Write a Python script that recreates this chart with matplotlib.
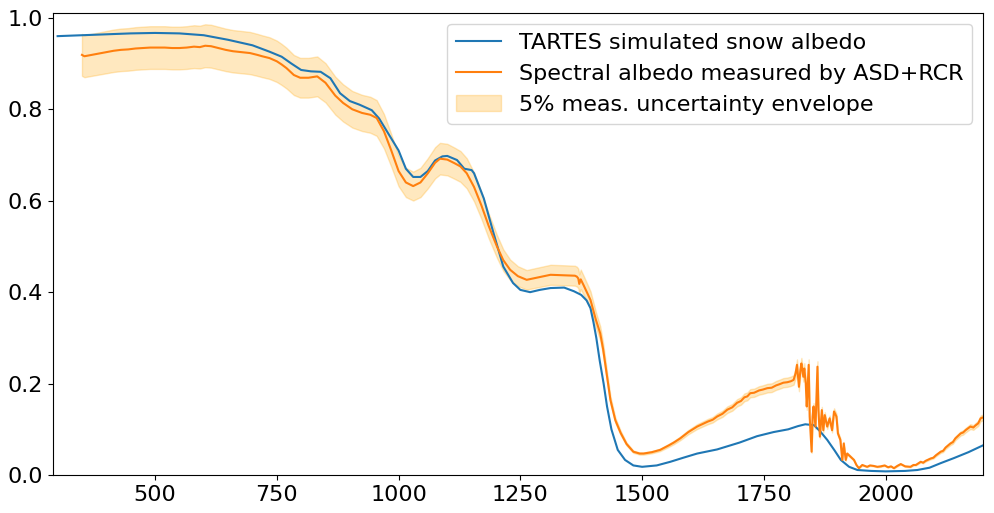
import matplotlib
matplotlib.use("Agg")
import matplotlib.pyplot as plt
import numpy as np

# TARTES simulated albedo
sim_wl = [300, 350, 400, 450, 500, 550, 600, 650, 700, 735, 760, 780, 800, 820, 840,
          860, 880, 900, 920, 945, 960, 980, 1000, 1015, 1030, 1045, 1060, 1075, 1090,
          1100, 1120, 1135, 1150, 1155, 1175, 1195, 1215, 1235, 1250, 1270, 1290, 1312,
          1340, 1360, 1375, 1386, 1394, 1400, 1406, 1413, 1421, 1428, 1437, 1450, 1465,
          1482, 1500, 1530, 1558, 1585, 1613, 1654, 1700, 1736, 1770, 1800, 1820, 1835,
          1853, 1866, 1880, 1895, 1908, 1925, 1942, 1970, 2000, 2040, 2065, 2090, 2113,
          2140, 2170, 2200]
sim_alb = [0.960, 0.962, 0.964, 0.966, 0.967, 0.966, 0.962, 0.952, 0.940, 0.926, 0.915,
           0.900, 0.886, 0.883, 0.882, 0.868, 0.835, 0.818, 0.810, 0.798, 0.780, 0.745,
           0.710, 0.670, 0.652, 0.652, 0.665, 0.688, 0.697, 0.698, 0.689, 0.670, 0.667,
           0.660, 0.605, 0.529, 0.456, 0.420, 0.405, 0.400, 0.405, 0.409, 0.410, 0.402,
           0.394, 0.382, 0.365, 0.335, 0.300, 0.250, 0.200, 0.150, 0.100, 0.055, 0.033,
           0.021, 0.018, 0.021, 0.029, 0.038, 0.047, 0.056, 0.071, 0.085, 0.094, 0.100,
           0.107, 0.111, 0.109, 0.095, 0.077, 0.054, 0.033, 0.018, 0.011, 0.009, 0.008,
           0.009, 0.011, 0.016, 0.026, 0.037, 0.050, 0.065]

# ASD+RCR measured albedo
meas_wl = [350, 355, 360, 370, 380, 390, 400, 415, 430, 445, 460, 475, 490, 505, 520, 535,
           550, 565, 580, 592, 603, 615, 630, 645, 660, 678, 695, 710, 720, 735, 750, 760,
           770, 785, 798, 815, 833, 850, 870, 886, 905, 925, 942, 955, 970, 985, 1000,
           1015, 1030, 1045, 1060, 1075, 1085, 1100, 1115, 1127, 1140, 1155, 1170, 1185,
           1202, 1215, 1229, 1245, 1263, 1285, 1312, 1340, 1362, 1366, 1369, 1371, 1374,
           1380, 1394, 1405, 1414, 1420, 1428, 1435, 1445, 1456, 1468, 1482, 1495, 1503,
           1520, 1537, 1555, 1565, 1578, 1595, 1613, 1625, 1635, 1645, 1654, 1665, 1675,
           1685, 1695, 1703, 1710, 1716, 1722, 1730, 1740, 1748, 1757, 1766, 1775, 1783,
           1790, 1798, 1805, 1811, 1815, 1818, 1822, 1825, 1827, 1831, 1833, 1836, 1838,
           1842, 1844, 1848, 1850, 1852, 1856, 1860, 1862, 1865, 1869, 1872, 1875, 1880,
           1885, 1890, 1894, 1899, 1902, 1907, 1911, 1914, 1918, 1921, 1928, 1935, 1940,
           1945, 1952, 1962, 1968, 1975, 1983, 1990, 1998, 2005, 2011, 2017, 2024, 2031,
           2040, 2051, 2057, 2062, 2072, 2077, 2082, 2092, 2098, 2103, 2113, 2118, 2123,
           2133, 2138, 2143, 2154, 2159, 2164, 2174, 2180, 2184, 2190, 2195, 2200]
meas_alb = [0.919, 0.916, 0.917, 0.919, 0.921, 0.923, 0.925, 0.928, 0.930, 0.931, 0.933,
            0.934, 0.935, 0.935, 0.935, 0.934, 0.934, 0.935, 0.937, 0.936, 0.939, 0.938,
            0.934, 0.930, 0.927, 0.925, 0.923, 0.919, 0.916, 0.912, 0.905, 0.898, 0.890,
            0.875, 0.869, 0.869, 0.872, 0.858, 0.830, 0.814, 0.800, 0.792, 0.788, 0.781,
            0.752, 0.710, 0.665, 0.640, 0.632, 0.640, 0.660, 0.683, 0.692, 0.690, 0.682,
            0.675, 0.660, 0.630, 0.590, 0.545, 0.500, 0.470, 0.449, 0.435, 0.427, 0.432,
            0.438, 0.437, 0.436, 0.434, 0.430, 0.418, 0.428, 0.415, 0.383, 0.340, 0.310,
            0.275, 0.215, 0.164, 0.120, 0.092, 0.068, 0.051, 0.047, 0.047, 0.050, 0.055,
            0.065, 0.071, 0.080, 0.094, 0.106, 0.112, 0.117, 0.121, 0.128, 0.134, 0.143,
            0.148, 0.158, 0.162, 0.170, 0.172, 0.179, 0.180, 0.185, 0.187, 0.190, 0.191,
            0.196, 0.199, 0.202, 0.203, 0.205, 0.208, 0.222, 0.241, 0.193, 0.230, 0.244,
            0.215, 0.233, 0.200, 0.150, 0.241, 0.128, 0.051, 0.128, 0.150, 0.106, 0.237,
            0.142, 0.084, 0.142, 0.098, 0.131, 0.106, 0.124, 0.098, 0.139, 0.128, 0.091,
            0.077, 0.033, 0.069, 0.033, 0.047, 0.040, 0.033, 0.022, 0.015, 0.022, 0.018,
            0.021, 0.020, 0.018, 0.019, 0.021, 0.017, 0.019, 0.015, 0.020, 0.024, 0.019,
            0.018, 0.022, 0.022, 0.029, 0.027, 0.031, 0.036, 0.038, 0.043, 0.051, 0.053,
            0.060, 0.069, 0.072, 0.080, 0.091, 0.093, 0.098, 0.106, 0.104, 0.108, 0.113,
            0.124, 0.126]

uncertainty = 0.05

plt.rcParams['font.size'] = 16
fig = plt.figure(figsize=(9.95, 5.13), dpi=100)
ax = fig.add_axes([0.053, 0.074, 0.935, 0.901])

meas = np.array(meas_alb)
ax.plot(sim_wl, sim_alb, color='#1f77b4', lw=1.5, label='TARTES simulated snow albedo')
ax.plot(meas_wl, meas_alb, color='#ff7f0e', lw=1.5, label='Spectral albedo measured by ASD+RCR')
ax.fill_between(meas_wl, meas * (1 - uncertainty), meas * (1 + uncertainty),
                color='orange', alpha=0.25, label='5% meas. uncertainty envelope')

ax.set_xlim(290, 2200)
ax.set_ylim(0, 1.011)
ax.set_xticks([500, 750, 1000, 1250, 1500, 1750, 2000])
ax.set_yticks([0.0, 0.2, 0.4, 0.6, 0.8, 1.0])
ax.legend(loc='upper right')

fig.savefig('out.png', dpi=100)
